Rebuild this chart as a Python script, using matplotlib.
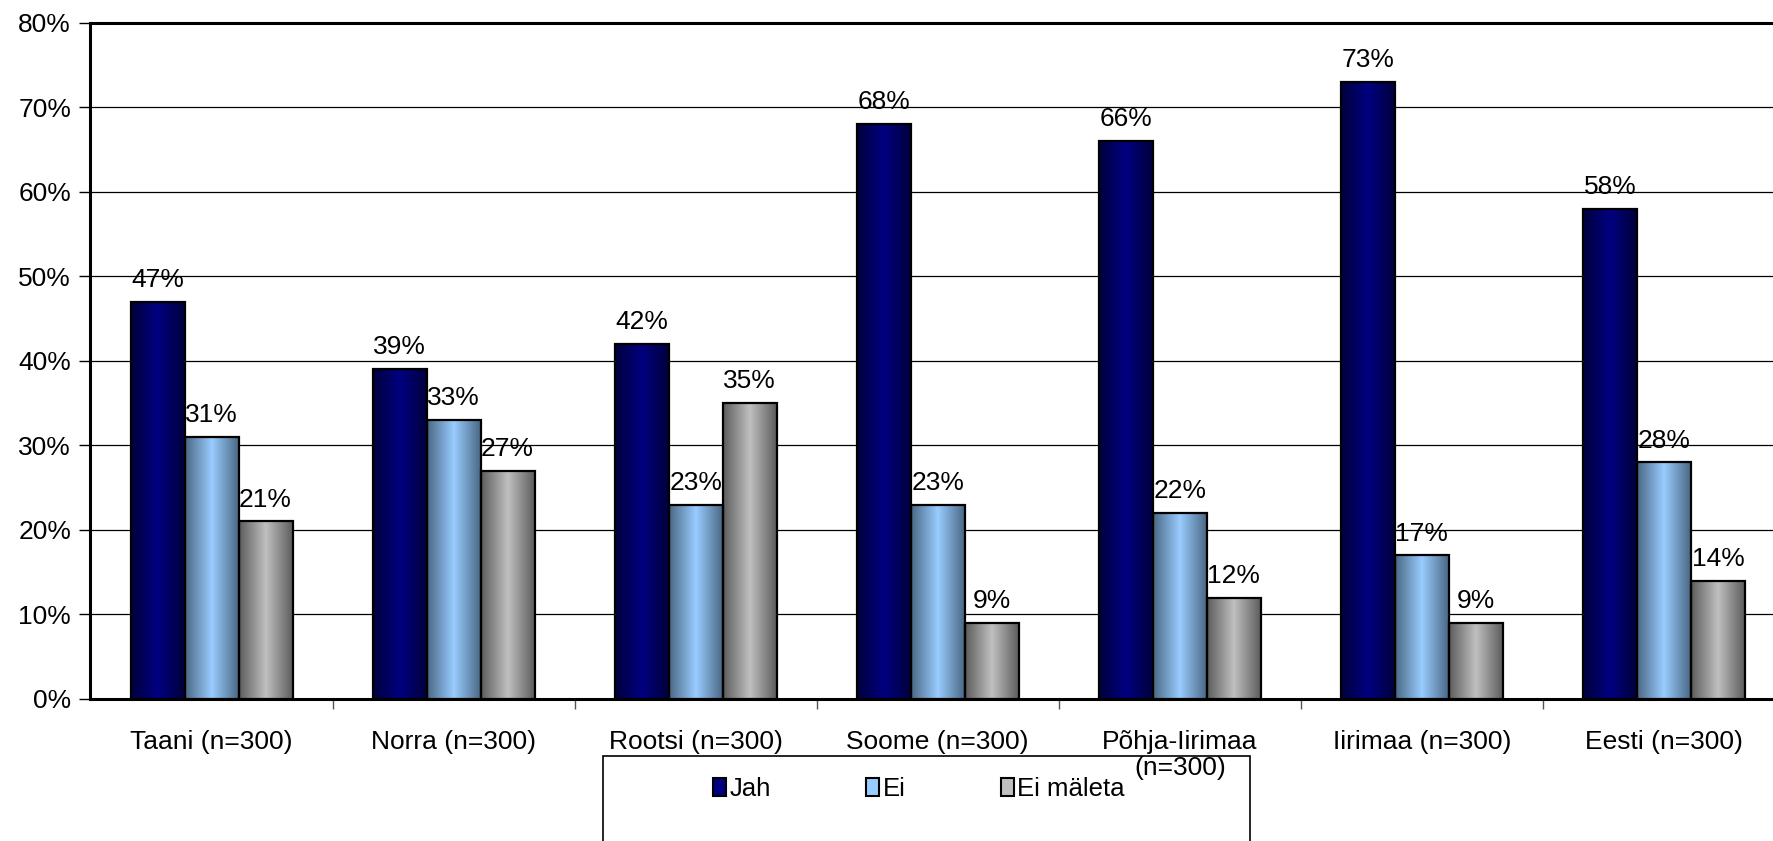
import numpy as np
import matplotlib
matplotlib.use("Agg")
import matplotlib.pyplot as plt
from matplotlib.colors import LinearSegmentedColormap
from matplotlib.patches import Rectangle

plt.rcParams['font.family'] = ['Liberation Sans', 'DejaVu Sans']

# andmed
categories = ['Taani (n=300)', 'Norra (n=300)', 'Rootsi (n=300)', 'Soome (n=300)',
              'Põhja-Iirimaa\n(n=300)', 'Iirimaa (n=300)', 'Eesti (n=300)']
series_names = ['Jah', 'Ei', 'Ei mäleta']
jah = [47, 39, 42, 68, 66, 73, 58]
ei = [31, 33, 23, 23, 22, 17, 28]
ei_maleta = [21, 27, 35, 9, 12, 9, 14]
y_ticks = [0, 10, 20, 30, 40, 50, 60, 70, 80]

# värvid: serv, keskosa, serv
gradients = [
    ['#00003c', '#000080', '#00003c'],
    ['#4a6784', '#99ccff', '#4a6784'],
    ['#5c5c5c', '#c0c0c0', '#5c5c5c'],
]
legend_colors = ['#000080', '#99ccff', '#c0c0c0']

fs = 19
W, H = 1774, 841
fig = plt.figure(figsize=(W / 100, H / 100), dpi=100)
ax = fig.add_axes([90.5 / W, 142 / H, (1785 - 90.5) / W, 676.5 / H])

x = np.arange(len(categories))
w = 0.223
grad = np.linspace(0, 1, 256).reshape(1, -1)

for i, (vals, cols) in enumerate(zip([jah, ei, ei_maleta], gradients)):
    cmap = LinearSegmentedColormap.from_list('g%d' % i, cols)
    pos = x + (i - 1) * w
    bars = ax.bar(pos, vals, width=w, facecolor='none', edgecolor='black',
                  linewidth=1.6, zorder=4)
    for b, v in zip(bars, vals):
        x0 = b.get_x()
        im = ax.imshow(grad, cmap=cmap, aspect='auto', zorder=3,
                       extent=[x0, x0 + w, 0, v], interpolation='bilinear')
        clip = Rectangle((x0, 0), w, v, transform=ax.transData)
        im.set_clip_path(clip)
        ax.annotate('%d%%' % v, (b.get_x() + w / 2, v), xytext=(0, 7),
                    textcoords='offset points', ha='center', va='bottom',
                    fontsize=fs, zorder=5)

ax.set_xlim(-0.5, len(categories) - 0.5)
ax.set_ylim(0, 80)
ax.set_yticks(y_ticks)
ax.set_yticklabels(['%d%%' % t for t in y_ticks], fontsize=fs)
ax.yaxis.grid(True, color='black', linewidth=0.9)
ax.set_axisbelow(True)

ax.set_xticks(x)
ax.set_xticklabels(categories, fontsize=fs, linespacing=1.15)
ax.tick_params(axis='x', which='major', length=0, pad=22)
ax.set_xticks(x[:-1] + 0.5, minor=True)
ax.tick_params(axis='x', which='minor', length=7, width=1, color='#555555')
ax.tick_params(axis='y', length=8, width=1, pad=6)

ax.spines['right'].set_visible(False)
ax.spines['top'].set_linewidth(2.2)
ax.spines['left'].set_linewidth(2.2)
ax.spines['bottom'].set_linewidth(2.2)

# legendi kast (ulatub pildi alt välja)
fig.patches.append(Rectangle((603 / W, -0.05), (1250 - 603) / W, 0.05 + 1 - 756 / H,
                             transform=fig.transFigure, facecolor='none',
                             edgecolor='black', linewidth=1.2, zorder=-1))
handles = [Rectangle((0, 0), 1, 1, facecolor=c, edgecolor='black', linewidth=1.5)
           for c in legend_colors]
leg = fig.legend(handles, series_names, loc='center left',
                 bbox_to_anchor=(713 / W, 1 - 789 / H), ncol=3,
                 fontsize=fs - 0.5, frameon=False,
                 handlelength=0.5, handleheight=0.65,
                 handletextpad=0.15, columnspacing=3.7, borderpad=0,
                 borderaxespad=0)
leg.set_zorder(6)

fig.savefig('out.png', dpi=100)
